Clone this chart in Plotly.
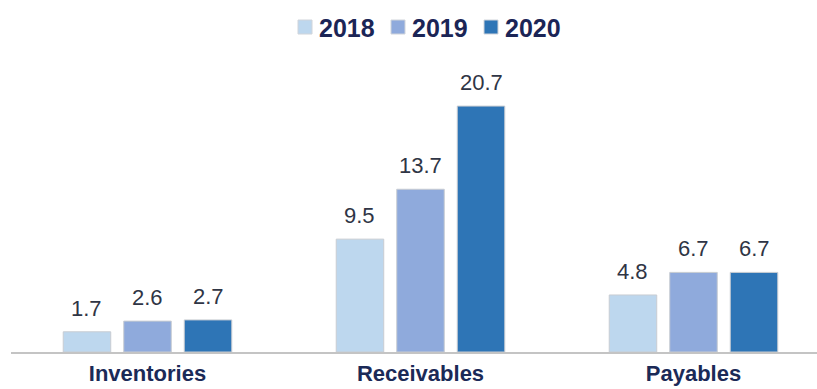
import plotly.graph_objects as go

categories = ["Inventories", "Receivables", "Payables"]
years = ["2018", "2019", "2020"]
values_2018 = [1.7, 9.5, 4.8]
values_2019 = [2.6, 13.7, 6.7]
values_2020 = [2.7, 20.7, 6.7]
colors = ["#BDD7EE", "#8FAADC", "#2E75B6"]

series = [values_2018, values_2019, values_2020]

W, H = 817, 389
left = 11
top = 60
bottom = 352
ppu = 11.88
ymax = (bottom - top) / ppu
cat_px = 273.0
bargap = 0.335
slot_px = cat_px * (1 - bargap) / len(series)


def px_x(p):
    return (p - left) / (W - left)


def px_y(p):
    return (bottom - p) / (bottom - top)


fig = go.Figure()
annotations = []
shapes = []
for i, (yr, vals, col) in enumerate(zip(years, series, colors)):
    fig.add_trace(go.Bar(
        name=yr, x=categories, y=vals, showlegend=False,
        marker=dict(color=col, line=dict(color="#C8CCD2", width=1)),
        cliponaxis=False,
    ))
    shift = (i - (len(series) - 1) / 2) * slot_px
    for c, v in zip(categories, vals):
        annotations.append(dict(
            x=c, y=v, xref="x", yref="y", text=f"{v:.1f}", showarrow=False,
            xanchor="center", yanchor="bottom", xshift=shift, yshift=9,
            font=dict(family="Liberation Sans, Arial", size=22, color="#2F3545"),
        ))
    # custom legend entry
    lx = 298 + i * 93
    ly = 27
    shapes.append(dict(type="rect", xref="paper", yref="paper",
                       x0=px_x(lx), x1=px_x(lx + 14),
                       y0=px_y(ly + 7), y1=px_y(ly - 7),
                       fillcolor=col, line=dict(color="#D0D4DA", width=1), layer="above"))
    annotations.append(dict(
        x=px_x(lx + 19), y=px_y(ly + 1), xref="paper", yref="paper", text=f"<b>{yr}</b>",
        showarrow=False, xanchor="left", yanchor="middle",
        font=dict(family="Liberation Sans, Arial", size=25, color="#1B2556"),
    ))

fig.update_layout(
    width=W, height=H,
    margin=dict(l=left, r=0, t=top, b=H - bottom, autoexpand=False),
    plot_bgcolor="white", paper_bgcolor="white",
    barmode="group", bargap=bargap, bargroupgap=0.215,
    showlegend=False,
    annotations=annotations,
    shapes=shapes,
)
fig.update_xaxes(range=[-0.5, -0.5 + (W - left) / cat_px], showline=True, linecolor="#C4C4C4", linewidth=2,
                 automargin=False,
                 ticks="", tickfont=dict(family="Liberation Sans, Arial", size=22, color="#1B2A57", weight="bold"),
                 ticklabelstandoff=1)
fig.update_yaxes(range=[0, ymax], visible=False, showgrid=False, zeroline=False, automargin=False)

fig.write_html("out.html")
